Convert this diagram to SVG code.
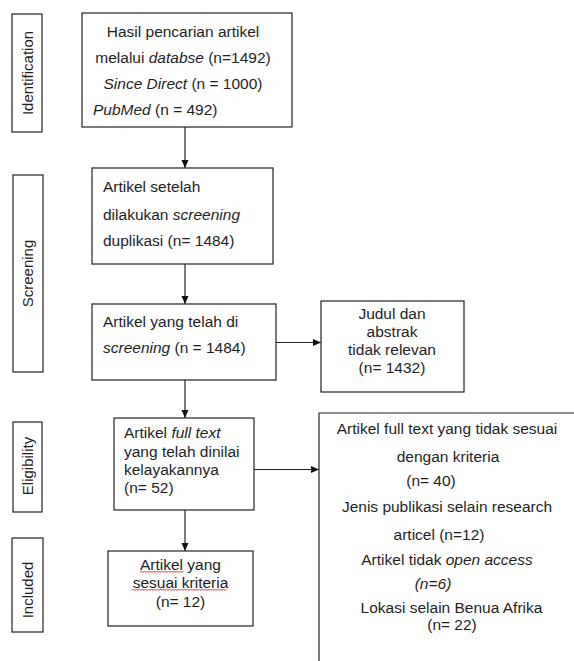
<svg xmlns="http://www.w3.org/2000/svg" width="574" height="661" viewBox="0 0 574 661">
<defs>
<style>
text{font-family:"Liberation Sans",Arial,sans-serif;font-size:15.5px;fill:#1e1e1e}
.lbl{font-size:15px;text-anchor:middle}
.c{text-anchor:middle}
.box{fill:#fff;stroke:#222;stroke-width:1.2}
.con{stroke:#222;stroke-width:1.2;fill:none}
.i{font-style:italic}
.sp{fill:none;stroke:#e02020;stroke-width:0.9}
</style>
<marker id="ah" markerUnits="userSpaceOnUse" markerWidth="9" markerHeight="8" refX="8" refY="4" orient="auto">
<path d="M0,0.5 L8,4 L0,7.5 z" fill="#111"/>
</marker>
</defs>
<rect width="574" height="661" fill="#fff"/>

<g id="stage-identification">
<rect class="box" x="12" y="14" width="30" height="118"/>
<text class="lbl" transform="translate(32.5,73) rotate(-90)">Identification</text>
</g>
<g id="stage-screening">
<rect class="box" x="13" y="175" width="30" height="197"/>
<text class="lbl" transform="translate(33,273.5) rotate(-90)">Screening</text>
</g>
<g id="stage-eligibility">
<rect class="box" x="13" y="422" width="29" height="90"/>
<text class="lbl" transform="translate(33,466) rotate(-90)">Eligibility</text>
</g>
<g id="stage-included">
<rect class="box" x="12" y="538" width="31" height="94"/>
<text class="lbl" transform="translate(33,590) rotate(-90)">Included</text>
</g>

<g id="connectors">
<line class="con" x1="185" y1="127" x2="185" y2="168" marker-end="url(#ah)"/>
<line class="con" x1="185" y1="264" x2="185" y2="304" marker-end="url(#ah)"/>
<line class="con" x1="276" y1="342.5" x2="321" y2="342.5" marker-end="url(#ah)"/>
<line class="con" x1="185" y1="380" x2="185" y2="418" marker-end="url(#ah)"/>
<line class="con" x1="185" y1="510" x2="185" y2="551" marker-end="url(#ah)"/>
<line class="con" x1="254" y1="469.5" x2="319" y2="469.5" marker-end="url(#ah)"/>
</g>

<g id="n1">
<rect class="box" x="82" y="13" width="210" height="114"/>
<text class="c" x="183" y="37">Hasil pencarian artikel</text>
<text class="c" x="183" y="63">melalui <tspan class="i">databse</tspan> (n=1492)</text>
<text class="c" x="183" y="88.5"><tspan class="i">Since Direct</tspan> (n = 1000)</text>
<text x="93" y="115"><tspan class="i">PubMed</tspan> (n = 492)</text>
</g>

<g id="n2">
<rect class="box" x="92" y="168" width="181" height="96"/>
<text x="103" y="191.5">Artikel setelah</text>
<text x="103" y="219.5">dilakukan <tspan class="i">screening</tspan></text>
<text x="103" y="245.5">duplikasi (n= 1484)</text>
</g>

<g id="n3">
<rect class="box" x="92" y="304" width="184" height="76"/>
<text x="103" y="326.5">Artikel yang telah di</text>
<text x="103" y="353"><tspan class="i">screening</tspan> (n = 1484)</text>
</g>

<g id="n4">
<rect class="box" x="321" y="301" width="143" height="91"/>
<text class="c" x="392" y="319">Judul dan</text>
<text class="c" x="392" y="337">abstrak</text>
<text class="c" x="392" y="355">tidak relevan</text>
<text class="c" x="392" y="373">(n= 1432)</text>
</g>

<g id="n5">
<rect class="box" x="114" y="418" width="140" height="92"/>
<text x="124" y="438">Artikel <tspan class="i">full text</tspan></text>
<text x="124" y="456.5">yang telah dinilai</text>
<text x="124" y="475">kelayakannya</text>
<text x="124" y="493">(n= 52)</text>
</g>

<g id="n6">
<rect class="box" x="108" y="551" width="145" height="75"/>
<text class="c" x="180.5" y="570">Artikel yang</text>
<text class="c" x="180.5" y="588">sesuai kriteria</text>
<text class="c" x="180.5" y="607">(n= 12)</text>
<path class="sp" d="M140,572.5 l1.5,-1.5 l1.5,1.5 l1.5,-1.5 l1.5,1.5 l1.5,-1.5 l1.5,1.5 l1.5,-1.5 l1.5,1.5 l1.5,-1.5 l1.5,1.5 l1.5,-1.5 l1.5,1.5 l1.5,-1.5 l1.5,1.5 l1.5,-1.5 l1.5,1.5 l1.5,-1.5 l1.5,1.5 l1.5,-1.5 l1.5,1.5 l1.5,-1.5 l1.5,1.5 l1.5,-1.5 l1.5,1.5 l1.5,-1.5 l1.5,1.5 l1.5,-1.5 l1.5,1.5 l1.5,-1.5"/>
<path class="sp" d="M132,590.5 l1.5,-1.5 l1.5,1.5 l1.5,-1.5 l1.5,1.5 l1.5,-1.5 l1.5,1.5 l1.5,-1.5 l1.5,1.5 l1.5,-1.5 l1.5,1.5 l1.5,-1.5 l1.5,1.5 l1.5,-1.5 l1.5,1.5 l1.5,-1.5 l1.5,1.5 l1.5,-1.5 l1.5,1.5 l1.5,-1.5 l1.5,1.5 l1.5,-1.5 l1.5,1.5 l1.5,-1.5 l1.5,1.5 l1.5,-1.5 l1.5,1.5 l1.5,-1.5 l1.5,1.5 l1.5,-1.5 l1.5,1.5 l1.5,-1.5 l1.5,1.5 l1.5,-1.5 l1.5,1.5 l1.5,-1.5 l1.5,1.5 l1.5,-1.5 l1.5,1.5 l1.5,-1.5 l1.5,1.5 l1.5,-1.5 l1.5,1.5 l1.5,-1.5 l1.5,1.5 l1.5,-1.5 l1.5,1.5 l1.5,-1.5 l1.5,1.5 l1.5,-1.5 l1.5,1.5 l1.5,-1.5 l1.5,1.5 l1.5,-1.5 l1.5,1.5 l1.5,-1.5 l1.5,1.5 l1.5,-1.5 l1.5,1.5 l1.5,-1.5 l1.5,1.5 l1.5,-1.5 l1.5,1.5 l1.5,-1.5"/>
</g>

<g id="n7">
<path class="box" d="M319,662 V413 H575"/>
<text class="c" x="447" y="434">Artikel full text yang tidak sesuai</text>
<text class="c" x="448" y="462">dengan kriteria</text>
<text class="c" x="431" y="486">(n= 40)</text>
<text class="c" x="447" y="512">Jenis publikasi selain research</text>
<text class="c" x="439" y="540">articel (n=12)</text>
<text class="c" x="447" y="565">Artikel tidak <tspan class="i">open access</tspan></text>
<text class="c i" x="433" y="589">(n=6)</text>
<text class="c" x="451.5" y="613">Lokasi selain Benua Afrika</text>
<text class="c" x="452" y="630">(n= 22)</text>
</g>
</svg>
